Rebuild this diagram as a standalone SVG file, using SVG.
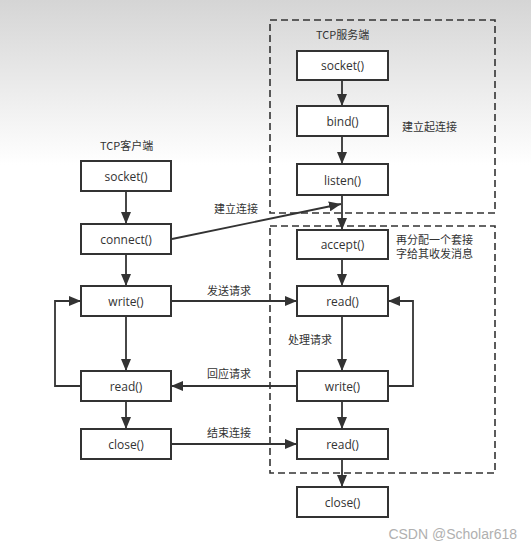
<svg xmlns="http://www.w3.org/2000/svg" width="531" height="549" viewBox="0 0 531 549">
<defs>
<linearGradient id="bg" x1="0" y1="0" x2="0" y2="1" gradientUnits="objectBoundingBox">
<stop offset="0" stop-color="#d5d5d5"/>
<stop offset="0.3" stop-color="#ffffff"/>
<stop offset="1" stop-color="#ffffff"/>
</linearGradient>
<marker id="ah" viewBox="0 0 12 10" refX="12" refY="5" markerWidth="12" markerHeight="10" markerUnits="userSpaceOnUse" orient="auto">
<path d="M0,0 L12,5 L0,10 Z" fill="#333"/>
</marker>
</defs>
<style>
.box{fill:#fff;stroke:#333;stroke-width:2}
.lbl{font-family:"Open Sans","Noto Sans CJK SC",sans-serif;font-size:12px;fill:#333;text-anchor:middle;dominant-baseline:central}
.cn{font-family:"Noto Sans CJK SC",sans-serif;font-size:11px;fill:#333;dominant-baseline:central}
.dash{fill:none;stroke:#333;stroke-width:1.6;stroke-dasharray:7,4}
.ln{fill:none;stroke:#333;stroke-width:1.8}
.arr{fill:none;stroke:#333;stroke-width:1.8;marker-end:url(#ah)}
</style>
<rect x="0" y="0" width="531" height="549" fill="url(#bg)"/>
<rect class="dash" x="270" y="20" width="225" height="193"/>
<rect class="dash" x="270" y="226" width="225" height="247"/>
<text class="cn" x="316" y="34">TCP服务端</text>
<text class="cn" x="100" y="145">TCP客户端</text>
<text class="cn" x="402" y="126">建立起连接</text>
<text class="cn" x="214" y="208">建立连接</text>
<text class="cn" x="396" y="238.5">再分配一个套接</text>
<text class="cn" x="396" y="253">字给其收发消息</text>
<text class="cn" x="207" y="290">发送请求</text>
<text class="cn" x="288" y="339">处理请求</text>
<text class="cn" x="207" y="373">回应请求</text>
<text class="cn" x="207" y="432">结束连接</text>
<g id="connectors">
<line class="arr" x1="126" y1="191" x2="126" y2="224"/>
<line class="arr" x1="126" y1="254" x2="126" y2="286"/>
<line class="arr" x1="126" y1="316" x2="126" y2="371"/>
<line class="arr" x1="126" y1="401" x2="126" y2="429"/>
<polyline class="arr" points="81,386 55,386 55,301 81,301"/>
<line class="arr" x1="342" y1="80" x2="342" y2="106"/>
<line class="arr" x1="342" y1="136" x2="342" y2="164"/>
<line class="arr" x1="342" y1="195" x2="342" y2="230"/>
<line class="arr" x1="342" y1="259" x2="342" y2="286"/>
<line class="arr" x1="342" y1="316" x2="342" y2="371"/>
<line class="arr" x1="342" y1="401" x2="342" y2="429"/>
<line class="arr" x1="342" y1="459" x2="342" y2="487"/>
<polyline class="arr" points="388,386 413,386 413,301 388,301"/>
<line class="arr" x1="172" y1="239" x2="341" y2="204"/>
<line class="arr" x1="171" y1="301" x2="297" y2="301"/>
<line class="arr" x1="297" y1="386" x2="171" y2="386"/>
<line class="arr" x1="171" y1="444" x2="297" y2="444"/>
</g>
<g id="c-socket"><rect class="box" x="81" y="161" width="90" height="30"/><text class="lbl" x="126" y="176">socket()</text></g>
<g id="c-connect"><rect class="box" x="81" y="224" width="90" height="30"/><text class="lbl" x="126" y="239">connect()</text></g>
<g id="c-write"><rect class="box" x="81" y="286" width="90" height="30"/><text class="lbl" x="126" y="301">write()</text></g>
<g id="c-read"><rect class="box" x="81" y="371" width="90" height="30"/><text class="lbl" x="126" y="386">read()</text></g>
<g id="c-close"><rect class="box" x="81" y="429" width="90" height="30"/><text class="lbl" x="126" y="444">close()</text></g>
<g id="s-socket"><rect class="box" x="297" y="51" width="91" height="29"/><text class="lbl" x="342.5" y="65.5">socket()</text></g>
<g id="s-bind"><rect class="box" x="297" y="106" width="91" height="30"/><text class="lbl" x="342.5" y="121">bind()</text></g>
<g id="s-listen"><rect class="box" x="297" y="164" width="91" height="31"/><text class="lbl" x="342.5" y="180">listen()</text></g>
<g id="s-accept"><rect class="box" x="297" y="230" width="91" height="29"/><text class="lbl" x="342.5" y="244.5">accept()</text></g>
<g id="s-read"><rect class="box" x="297" y="286" width="91" height="30"/><text class="lbl" x="342.5" y="301">read()</text></g>
<g id="s-write"><rect class="box" x="297" y="371" width="91" height="30"/><text class="lbl" x="342.5" y="386">write()</text></g>
<g id="s-read2"><rect class="box" x="297" y="429" width="91" height="30"/><text class="lbl" x="342.5" y="444">read()</text></g>
<g id="s-close"><rect class="box" x="297" y="487" width="91" height="30"/><text class="lbl" x="342.5" y="502">close()</text></g>
<text x="517" y="534" font-family="'Liberation Sans',sans-serif" font-size="14" fill="#b0b0b0" text-anchor="end" dominant-baseline="central">CSDN @Scholar618</text>
</svg>
